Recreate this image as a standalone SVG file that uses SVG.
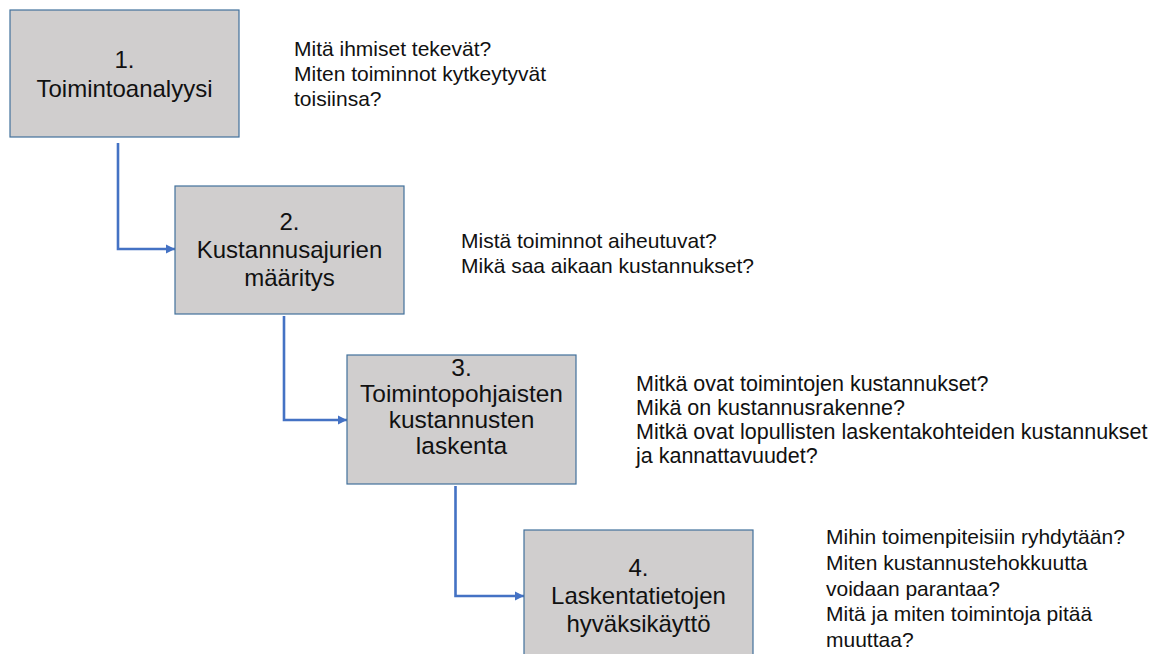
<svg xmlns="http://www.w3.org/2000/svg" width="1167" height="654" viewBox="0 0 1167 654">
<defs>
<style>
.box{fill:#d0cece;stroke:#41719c;stroke-width:1.2}
.bt{font-family:"Liberation Sans",Arial,sans-serif;font-size:24px;fill:#111;text-anchor:middle}
.st{font-family:"Liberation Sans",Arial,sans-serif;font-size:21px;fill:#111}
.conn{fill:none;stroke:#4472c4;stroke-width:2.6}
</style>
<marker id="arr" markerWidth="12" markerHeight="12" refX="9" refY="5" orient="auto" markerUnits="userSpaceOnUse">
<path d="M0,0.5 L9,5 L0,9.5 Z" fill="#4472c4"/>
</marker>
</defs>
<rect width="1167" height="654" fill="#fff"/>
<g id="connectors">
<path class="conn" d="M118,143 V249 H175" marker-end="url(#arr)"/>
<path class="conn" d="M284,316 V420 H347" marker-end="url(#arr)"/>
<path class="conn" d="M455.5,486 V596 H524" marker-end="url(#arr)"/>
</g>
<g id="node1">
<rect class="box" x="10" y="10" width="229" height="127"/>
<text class="bt" x="124.5" y="68">1.</text>
<text class="bt" x="124.5" y="97">Toimintoanalyysi</text>
</g>
<g id="node2">
<rect class="box" x="175" y="186" width="229" height="128"/>
<text class="bt" x="289.5" y="230">2.</text>
<text class="bt" x="289.5" y="258">Kustannusajurien</text>
<text class="bt" x="289.5" y="286">määritys</text>
</g>
<g id="node3">
<rect class="box" x="347" y="355" width="229" height="129"/>
<text class="bt" x="461.5" y="376" style="font-size:24.5px">3.</text>
<text class="bt" x="461.5" y="402" style="font-size:24.5px">Toimintopohjaisten</text>
<text class="bt" x="461.5" y="428" style="font-size:24.5px">kustannusten</text>
<text class="bt" x="461.5" y="454" style="font-size:24.5px">laskenta</text>
</g>
<g id="node4">
<rect class="box" x="524" y="530" width="229" height="140"/>
<text class="bt" x="638.5" y="576">4.</text>
<text class="bt" x="638.5" y="604">Laskentatietojen</text>
<text class="bt" x="638.5" y="632">hyväksikäyttö</text>
</g>
<g id="notes1">
<text class="st" x="294" y="56">Mitä ihmiset tekevät?</text>
<text class="st" x="294" y="81">Miten toiminnot kytkeytyvät</text>
<text class="st" x="294" y="106">toisiinsa?</text>
</g>
<g id="notes2">
<text class="st" x="461" y="248">Mistä toiminnot aiheutuvat?</text>
<text class="st" x="461" y="273">Mikä saa aikaan kustannukset?</text>
</g>
<g id="notes3" style="font-size:21.5px">
<text class="st" x="636" y="391" style="font-size:21.5px">Mitkä ovat toimintojen kustannukset?</text>
<text class="st" x="636" y="415" style="font-size:21.5px">Mikä on kustannusrakenne?</text>
<text class="st" x="636" y="439" style="font-size:21.5px">Mitkä ovat lopullisten laskentakohteiden kustannukset</text>
<text class="st" x="636" y="463" style="font-size:21.5px">ja kannattavuudet?</text>
</g>
<g id="notes4">
<text class="st" x="826" y="544">Mihin toimenpiteisiin ryhdytään?</text>
<text class="st" x="826" y="570">Miten kustannustehokkuutta</text>
<text class="st" x="826" y="596">voidaan parantaa?</text>
<text class="st" x="826" y="621">Mitä ja miten toimintoja pitää</text>
<text class="st" x="826" y="647">muuttaa?</text>
</g>
</svg>
